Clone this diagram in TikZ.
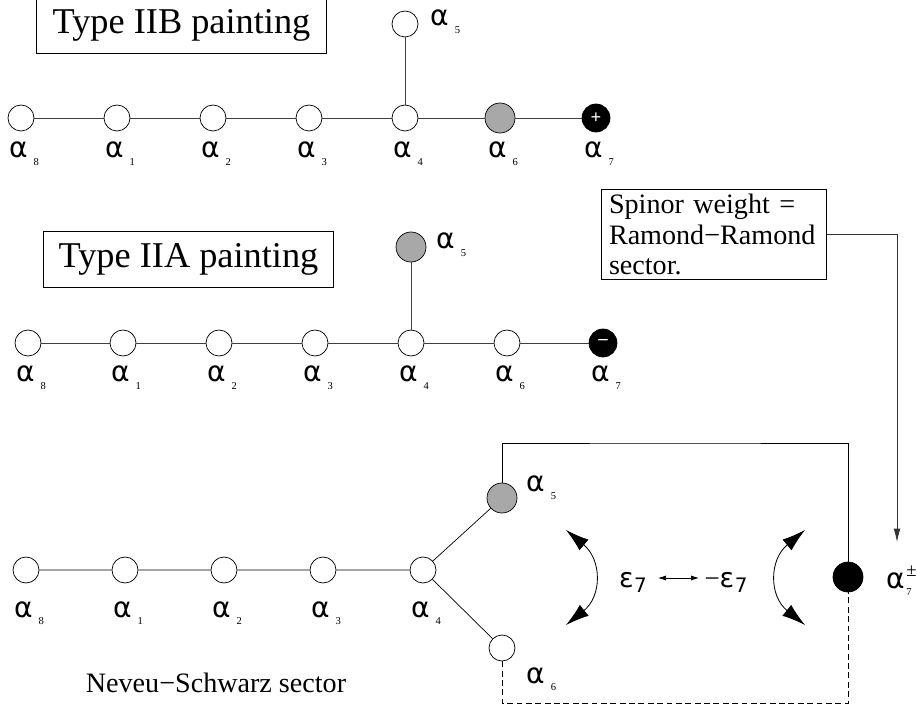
\documentclass[tikz,border=0pt]{standalone}
\usepackage{fontspec}
\setmainfont{Liberation Serif}
\newfontfamily\greekfont{DejaVu Sans}
\usetikzlibrary{arrows.meta}
\definecolor{paintgray}{HTML}{A8A8A8}
% alpha with a small lowered index
\newcommand{\aroot}[1]{{\greekfont α}\kern0.22em\raisebox{-0.25em}{\fontsize{9}{9}\selectfont #1}}
\newcommand{\eroot}{{\greekfont ε}\kern0.02em\raisebox{-0.2em}{\fontsize{17}{17}\selectfont\greekfont 7}}
\begin{document}
\begin{tikzpicture}[x=0.03cm,y=-0.03cm,
  wdot/.style={circle,draw,fill=white,line width=0.6pt,minimum size=0.78cm,inner sep=0pt},
  gdot/.style={wdot,fill=paintgray,minimum size=0.9cm},
  bdot/.style={wdot,fill=black,text=white,minimum size=0.84cm,font=\fontsize{16}{16}\selectfont\bfseries},
  rootlab/.style={anchor=base,inner sep=0pt,font=\fontsize{24}{24}\selectfont},
  titlebox/.style={draw,line width=0.6pt,minimum width=8.7cm,minimum height=1.7cm,font=\fontsize{31}{31}\selectfont},
  link/.style={black!75,line width=0.6pt},
  flip/.style={line width=0.7pt,{Latex[length=0.7cm,width=0.42cm]}-{Latex[length=0.7cm,width=0.42cm]}}]
 \useasboundingbox (0,0) rectangle (917,710);

 % Type IIB
 \node[titlebox] (iibbox) at (181.5,25.5) {Type IIB painting};
 \foreach \n/\x in {8/21,1/117,2/213,3/309,4/405}{
   \node[wdot] (b\n) at (\x,118) {};
   \node[rootlab] (bl\n) at (\x+3,158) {\aroot{\n}};
 }
 \node[gdot] (b6) at (500,118) {};
 \node[rootlab] (bl6) at (503,158) {\aroot{6}};
 \node[bdot] (b7) at (596,118) {+};
 \node[rootlab] (bl7) at (599,158) {\aroot{7}};
 \node[wdot] (b5) at (405,24) {};
 \node[rootlab,anchor=base west] (bl5) at (430,26) {\aroot{5}};
 \draw[link] (b8) -- (b1) -- (b2) -- (b3) -- (b4) -- (b6) -- (b7);
 \draw[link] (b4) -- (b5);

 % Type IIA
 \node[titlebox] (iiabox) at (188.5,259.5) {Type IIA painting};
 \foreach \n/\x in {8/28,1/123,2/219,3/315,4/411,6/507}{
   \node[wdot] (a\n) at (\x,343) {};
   \node[rootlab] (al\n) at (\x+3,382) {\aroot{\n}};
 }
 \node[bdot] (a7) at (603,343) {\raisebox{0.12em}{--}};
 \node[rootlab] (al7) at (606,382) {\aroot{7}};
 \node[gdot] (a5) at (411,247) {};
 \node[rootlab,anchor=base west] (al5) at (436,249) {\aroot{5}};
 \draw[link] (a8) -- (a1) -- (a2) -- (a3) -- (a4) -- (a6) -- (a7);
 \draw[link] (a4) -- (a5);

 % Ramond-Ramond note
 \node[draw,line width=0.6pt,align=left,text width=6.3cm,inner xsep=0.22cm,inner ysep=0.12cm,
   font=\fontsize{24}{26.4}\selectfont] (spin) at (714,234.5)
   {Spinor weight =\\Ramond−Ramond\\sector.};

 % Neveu-Schwarz sector
 \foreach \n/\x in {8/26,1/125,2/224,3/323,4/423}{
   \node[wdot] (n\n) at (\x,570) {};
   \node[rootlab] (nl\n) at (\x+3,617) {\aroot{\n}};
 }
 \node[gdot] (n5) at (502,498) {};
 \node[rootlab,anchor=base west] (nl5) at (526,492) {\aroot{5}};
 \node[wdot] (n6) at (502,648) {};
 \node[rootlab,anchor=base west] (nl6) at (526,683) {\aroot{6}};
 \node[wdot,fill=black,minimum size=0.9cm] (c7) at (848,577) {};
 \node[rootlab,anchor=base west] (c7lab) at (886,588)
   {{\greekfont α}\kern0.06em\rlap{\raisebox{-0.25em}{\fontsize{9}{9}\selectfont 7}}\raisebox{0.4em}{\fontsize{16}{16}\selectfont ±}};
 \draw[link,black] (n8) -- (n1) -- (n2) -- (n3) -- (n4) -- (n5);
 \draw[link,black] (n4) -- (n6);
 \node[font=\fontsize{24}{24}\selectfont] (nslab) at (216,683) {Neveu−Schwarz sector};

 \coordinate (nstop) at (675,443);
 \coordinate (nsbot) at (675,703);
 \draw[link,black] (n5.north) |- (nstop) -| (c7.north);
 \draw[link,black,dashed,dash pattern=on 5pt off 3pt] (n6.south) |- (nsbot) -| (c7.south);

 % epsilon_7 <-> -epsilon_7
 \node[rootlab,anchor=base,font=\fontsize{23}{23}\selectfont] (eps) at (633,587) {\eroot};
 \node[rootlab,anchor=base,font=\fontsize{23}{23}\selectfont] (meps) at (726,587) {−\eroot};
 \coordinate (epsr) at (658,578);
 \coordinate (mepsl) at (699,578);
 \draw[line width=0.6pt,{Latex[length=0.24cm,width=0.15cm]}-{Latex[length=0.24cm,width=0.15cm]}] (epsr) -- (mepsl);

 \coordinate (lflipt) at (566,530);
 \coordinate (lflipb) at (566,625);
 \coordinate (rflipt) at (805,530);
 \coordinate (rflipb) at (805,625);
 \draw[flip] (lflipt) .. controls (602,560) and (602,596) .. (lflipb);
 \draw[flip] (rflipt) .. controls (769,560) and (769,596) .. (rflipb);

 % note to alpha_7^{+-}
 \coordinate (rrend) at (897,542);
 \draw[line width=0.6pt,black!80,-{Latex[length=0.4cm,width=0.2cm]}] (spin.east) -| (rrend);
\end{tikzpicture}
\end{document}
